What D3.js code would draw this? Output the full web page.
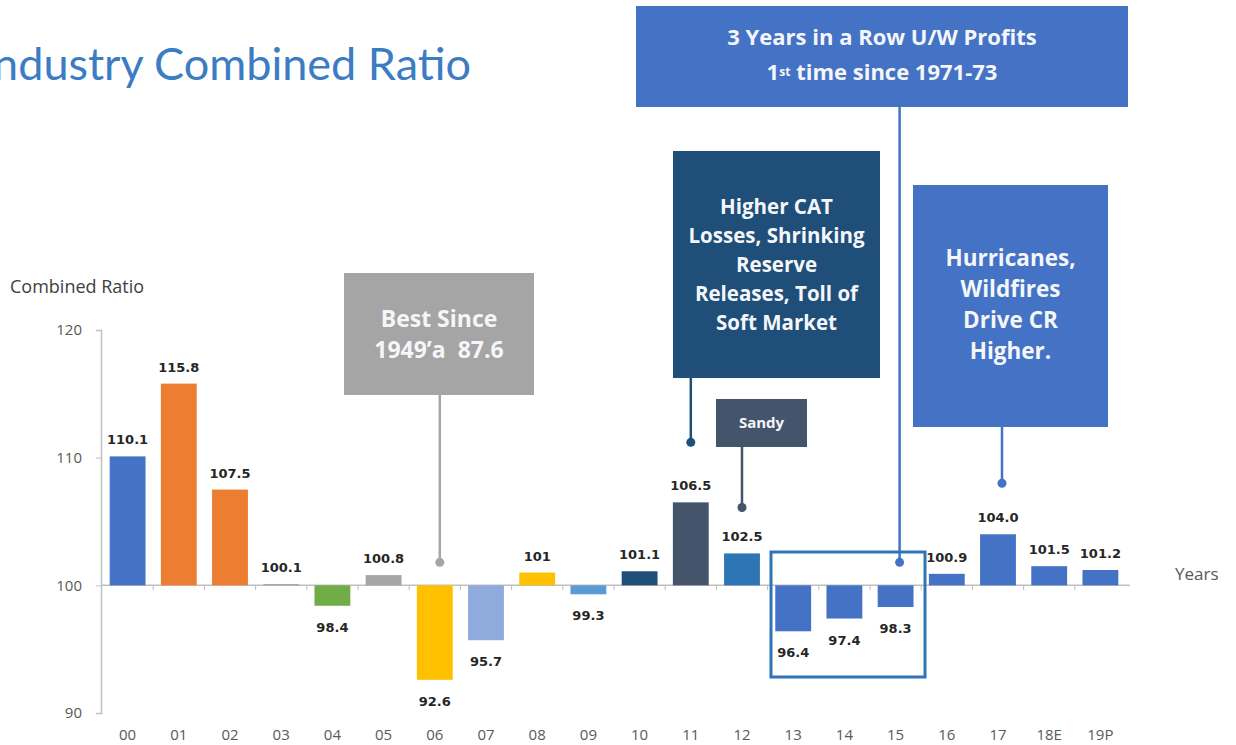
<!DOCTYPE html>
<html>
<head>
<meta charset="utf-8">
<script src="https://cdn.jsdelivr.net/npm/d3@7"></script>
<style>
  body { margin: 0; background: #fff; }
  svg.vis { display: block; font-family: "Open Sans", Lato, sans-serif; }
</style>
</head>
<body>
<svg class="vis" width="1236" height="745"></svg>
<script>

// data
const years  = ["00","01","02","03","04","05","06","07","08","09","10","11","12","13","14","15","16","17","18E","19P"];
const ratios = [110.1, 115.8, 107.5, 100.1, 98.4, 100.8, 92.6, 95.7, 101, 99.3, 101.1, 106.5, 102.5, 96.4, 97.4, 98.3, 100.9, 104.0, 101.5, 101.2];
const labels = ["110.1","115.8","107.5","100.1","98.4","100.8","92.6","95.7","101","99.3","101.1","106.5","102.5","96.4","97.4","98.3","100.9","104.0","101.5","101.2"];
const y_ticks = [90, 100, 110, 120];

// notes: text lines, the year they point at and the ratio level of the dot
const note_lines = [
    ["Best Since", "1949\u2019a  87.6"],
    ["Higher CAT", "Losses, Shrinking", "Reserve", "Releases, Toll of", "Soft Market"],
    ["Sandy"],
    ["3 Years in a Row U/W Profits", "1|st| time since 1971-73"],
    ["Hurricanes,", "Wildfires", "Drive CR", "Higher."]
];
const note_years  = ["06", "11", "12", "15", "17"];
const note_levels = [101.8, 111.2, 106.1, 101.8, 108.0];

const vis = {

    sels: { svg: null },

    colors: {
        bars: ["#4472c4","#ed7d31","#ed7d31","#a5a5a5","#70ad47","#a5a5a5","#ffc000","#8faadc","#ffc000","#5b9bd5",
               "#1f4e79","#44546a","#2e75b6","#4472c4","#4472c4","#4472c4","#4472c4","#4472c4","#4472c4","#4472c4"],
        notes: ["#a5a5a5", "#1f4e79", "#44546a", "#4472c4", "#4472c4"],
        axis: "#bfbfbf",
        text: "#595959"
    },

    // box geometry of the notes: x, y, w, h, font size, line step, first baseline, dot offset
    boxes: [
        { x: 344, y: 273, w: 190, h: 122, fs: 23, step: 31, base: 327, dx: 5 },
        { x: 673, y: 151, w: 207, h: 227, fs: 20.5, step: 29, base: 214, dx: 0 },
        { x: 716, y: 399, w: 91,  h: 48,  fs: 15, step: 0,  base: 428, dx: 0 },
        { x: 636, y: 6,   w: 492, h: 101, fs: 22, step: 35, base: 45,  dx: 4 },
        { x: 913, y: 185, w: 195, h: 242, fs: 22.5, step: 31, base: 266, dx: 4 }
    ],

    scales: {
        x: d3.scaleBand().domain(years).range([102, 1126]).paddingInner(0.3).paddingOuter(0.15),
        y: d3.scaleLinear().domain([90, 120]).range([713, 330])
    },

    init: function() {
        vis.sels.svg = d3.select("svg.vis");
        vis.draw.titles();
        vis.draw.notes();
        vis.draw.axes();
        vis.draw.bars();
        vis.draw.frame();
    },

    draw: {

        titles: function() {
            let svg = vis.sels.svg;

            // the slide title is cut at the left edge
            svg.append("text")
              .attr("x", 471).attr("y", 80)
              .attr("text-anchor", "end")
              .attr("font-family", "Lato, sans-serif")
              .attr("font-size", 45)
              .attr("fill", "#3b7cc2")
              .text("Industry Combined Ratio");

            svg.append("text")
              .attr("x", 10).attr("y", 293)
              .attr("font-size", 18)
              .attr("fill", "#404040")
              .text("Combined Ratio");

            svg.append("text")
              .attr("x", 1175).attr("y", 580)
              .attr("font-size", 17)
              .attr("fill", vis.colors.text)
              .text("Years");
        },

        axes: function() {
            let svg = vis.sels.svg;
            let x = vis.scales.x, y = vis.scales.y;

            let gy = svg.append("g")
              .attr("transform", "translate(101,0)")
              .call(d3.axisLeft(y).tickValues(y_ticks).tickSize(5).tickPadding(14));
            gy.select(".domain").attr("stroke", vis.colors.axis).attr("stroke-width", 1.5);
            gy.selectAll(".tick line").attr("stroke", vis.colors.axis);
            gy.selectAll(".tick text")
              .attr("fill", vis.colors.text)
              .attr("font-size", 15)
              .attr("font-family", "'Open Sans', sans-serif");

            // baseline at 100 with small ticks between the years
            let base = y(100);
            svg.append("line")
              .attr("x1", 101).attr("x2", 1130)
              .attr("y1", base).attr("y2", base)
              .attr("stroke", vis.colors.axis).attr("stroke-width", 1.5);

            let step = x.step();
            svg.selectAll("line.xtick")
              .data(years.slice(1))
              .join("line")
              .attr("class", "xtick")
              .attr("x1", d => x(d) - step * 0.15)
              .attr("x2", d => x(d) - step * 0.15)
              .attr("y1", base).attr("y2", base + 5)
              .attr("stroke", vis.colors.axis);

            svg.selectAll("text.xlab")
              .data(years)
              .join("text")
              .attr("class", "xlab")
              .attr("x", d => x(d) + x.bandwidth() / 2)
              .attr("y", 740)
              .attr("text-anchor", "middle")
              .attr("font-size", 15)
              .attr("fill", vis.colors.text)
              .text(d => d);
        },

        bars: function() {
            let svg = vis.sels.svg;
            let x = vis.scales.x, y = vis.scales.y;
            let rows = years.map((d, i) => ({ year: d, value: ratios[i], label: labels[i], color: vis.colors.bars[i] }));

            svg.selectAll("rect.bar")
              .data(rows)
              .join("rect")
              .attr("class", "bar")
              .attr("x", d => x(d.year))
              .attr("width", x.bandwidth())
              .attr("y", d => Math.min(y(d.value), y(100)))
              .attr("height", d => Math.abs(y(d.value) - y(100)))
              .attr("fill", d => d.color);

            svg.selectAll("text.val")
              .data(rows)
              .join("text")
              .attr("class", "val")
              .attr("x", d => x(d.year) + x.bandwidth() / 2)
              .attr("y", d => d.value >= 100 ? y(d.value) - 12 : y(d.value) + 26)
              .attr("text-anchor", "middle")
              .attr("font-family", "'DejaVu Sans', sans-serif")
              .attr("font-weight", "bold")
              .attr("font-size", 13)
              .attr("fill", "#262626")
              .text(d => d.label);
        },

        notes: function() {
            let svg = vis.sels.svg;
            let x = vis.scales.x, y = vis.scales.y;

            note_lines.forEach((lines, i) => {
                let b = vis.boxes[i];
                let c = vis.colors.notes[i];
                let cx = x(note_years[i]) + x.bandwidth() / 2 + b.dx;
                let g = svg.append("g");

                g.append("line")
                  .attr("x1", cx).attr("x2", cx)
                  .attr("y1", b.y + b.h).attr("y2", y(note_levels[i]))
                  .attr("stroke", c).attr("stroke-width", 2.5);

                g.append("circle")
                  .attr("cx", cx).attr("cy", y(note_levels[i]))
                  .attr("r", 4.5).attr("fill", c);

                g.append("rect")
                  .attr("x", b.x).attr("y", b.y)
                  .attr("width", b.w).attr("height", b.h)
                  .attr("fill", c);

                let t = g.append("text")
                  .attr("text-anchor", "middle")
                  .attr("font-weight", "bold")
                  .attr("font-size", b.fs)
                  .style("white-space", "pre")
                  .attr("fill", "#f4f6fa");

                lines.forEach((line, j) => {
                    let tl = t.append("tspan")
                      .attr("x", b.x + b.w / 2)
                      .attr("y", b.base + j * b.step);
                    // |..| marks a superscript part
                    line.split("|").forEach((part, k) => {
                        let p = tl.append("tspan").text(part);
                        if (k % 2 === 1) {
                            p.attr("baseline-shift", "35%").attr("font-size", b.fs * 0.55);
                        }
                    });
                });
            });
        },

        frame: function() {
            // outline round the three profit years
            vis.sels.svg.append("rect")
              .attr("x", 771).attr("y", 552)
              .attr("width", 154).attr("height", 125)
              .attr("fill", "none")
              .attr("stroke", "#2e75b6")
              .attr("stroke-width", 3);
        }
    }
};

vis.init();

</script>
</body>
</html>
